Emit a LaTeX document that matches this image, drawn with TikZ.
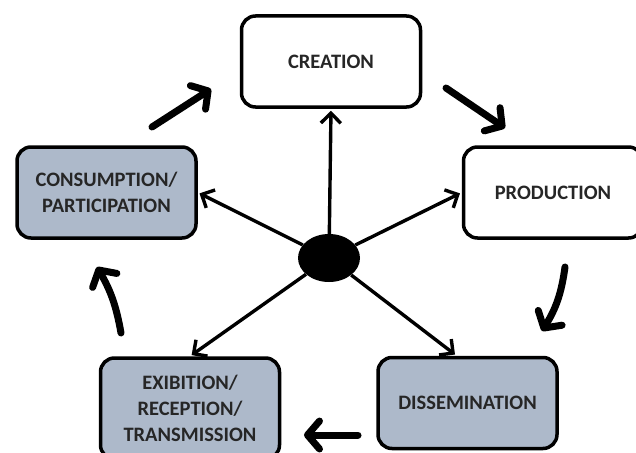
\documentclass[tikz,border=0pt]{standalone}
\usepackage{fontspec}
\setmainfont{Carlito}
\usetikzlibrary{arrows.meta, positioning, shapes.geometric}
\definecolor{StageGrey}{HTML}{ADB9CA}
\definecolor{StageInk}{HTML}{262626}

\begin{document}
\begin{tikzpicture}[x=1pt, y=-1pt,
  stage/.style={draw, line width=3.5pt, rounded corners=14pt, fill=white,
    minimum width=179pt, minimum height=91pt, align=center,
    font=\bfseries\fontsize{20.5}{26}\selectfont, text=StageInk},
  greystage/.style={stage, fill=StageGrey},
  spoke/.style={line width=3.4pt, -{Straight Barb[length=10pt, width=20pt]}, shorten >=2pt},
  cycle/.style={line width=7pt, line cap=round, -{Straight Barb[length=12pt, width=28pt, round]}}]
  \clip (0,0) rectangle (636,452);
  \useasboundingbox (0,0) rectangle (636,452);
  % stages of the cycle
  \node[stage] (creation) at (331,61.5) {CREATION};
  \node[stage] (production) at (553,192.5) {PRODUCTION};
  \node[greystage] (dissemination) at (467.5,403) {DISSEMINATION};
  \node[greystage, minimum height=101pt] (exibition) at (190,408.5) {EXIBITION/\\RECEPTION/\\TRANSMISSION};
  \node[greystage] (consumption) at (106.5,192.5) {CONSUMPTION/\\PARTICIPATION};
  % hub
  \node[ellipse, fill=black, minimum width=62pt, minimum height=48pt, inner sep=0pt] (hub) at (329,258) {};
  \draw[spoke] (hub) -- (creation.south);
  \draw[spoke] (hub) -- (production.west);
  \draw[spoke] (hub) -- (dissemination.103);
  \draw[spoke] (hub) -- (exibition.north);
  \draw[spoke] (hub) -- (consumption.east);
  % cycle arrows
  \coordinate (c1a) at (152,127);
  \coordinate (c1b) at (211,89);
  \coordinate (c2a) at (446,88);
  \coordinate (c2b) at (505,128);
  \coordinate (c3a) at (565,267);
  \coordinate (c3b) at (542,331);
  \coordinate (c4a) at (358,435);
  \coordinate (c4b) at (304,435);
  \coordinate (c5a) at (121,333);
  \coordinate (c5b) at (97,267);
  \draw[cycle] (c1a) -- (c1b);
  \draw[cycle] (c2a) -- (c2b);
  \draw[cycle] (c3a) to[bend left=12] (c3b);
  \draw[cycle] (c4a) -- (c4b);
  \draw[cycle] (c5a) to[bend right=10] (c5b);
\end{tikzpicture}
\end{document}
